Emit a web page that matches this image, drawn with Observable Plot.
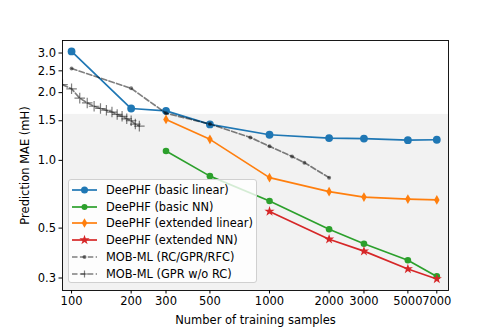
<!DOCTYPE html>
<html><head><meta charset="utf-8">
<script src="https://cdn.jsdelivr.net/npm/d3@7"></script>
<script src="https://cdn.jsdelivr.net/npm/@observablehq/plot@0.6"></script>
<style>
body{margin:0;background:#fff;font-family:"DejaVu Sans",sans-serif;}
#wrap{position:relative;width:498px;height:332px;}
#legend{position:absolute;left:68px;top:179px;width:189px;height:104px;background:rgba(255,255,255,0.8);border:1px solid #d0d0d0;border-radius:3px;box-sizing:border-box;}
.row{position:absolute;left:0;height:16px;font-size:11.4px;line-height:16px;color:#000;white-space:nowrap;}
.row svg{position:absolute;left:2px;top:0;}
.row span{position:absolute;left:37px;top:0;}
</style>
</head><body><div id="wrap"></div>
<script>
// ---- data ----
const xTicks = [100, 200, 300, 500, 1000, 2000, 3000, 5000, 7000];
const yTicks = [0.3, 0.5, 1.0, 1.5, 2.0, 2.5, 3.0];
const xDomain = [90, 8020];
const yDomain = [0.264, 3.41];
const chemicalAccuracy = 1.6;

const basicLinearX = [100, 200, 300, 500, 1000, 2000, 3000, 5000, 7000];
const basicLinearY = [3.05, 1.70, 1.66, 1.445, 1.30, 1.256, 1.25, 1.23, 1.235];
const basicNNX = [300, 500, 1000, 2000, 3000, 5000, 7000];
const basicNNY = [1.10, 0.851, 0.66, 0.494, 0.426, 0.36, 0.305];
const extLinearX = [300, 500, 1000, 2000, 3000, 5000, 7000];
const extLinearY = [1.52, 1.24, 0.838, 0.726, 0.687, 0.673, 0.667];
const extNNX = [1000, 2000, 3000, 5000, 7000];
const extNNY = [0.593, 0.446, 0.395, 0.329, 0.297];
const mobX = [100, 200, 300, 500, 800, 1000, 1300, 1500, 2000];
const mobY = [2.56, 2.09, 1.62, 1.45, 1.265, 1.154, 1.04, 0.977, 0.838];
const gprX = [90, 100, 110, 120, 130, 140, 150, 160, 170, 180, 190, 200, 210, 220];
const gprY = [2.17, 2.08, 1.89, 1.80, 1.74, 1.70, 1.67, 1.64, 1.60, 1.57, 1.53, 1.50, 1.45, 1.42];

const seriesNames = ["DeePHF (basic linear)", "DeePHF (basic NN)", "DeePHF (extended linear)", "DeePHF (extended NN)", "MOB-ML (RC/GPR/RFC)", "MOB-ML (GPR w/o RC)"];

const toRows = (xs, ys) => xs.map((x, i) => ({x, y: ys[i]}));

const thinDiamond = {
  draw(ctx, size) {
    const r = Math.sqrt(size / Math.PI);
    const h = r * 1.18, w = r * 0.68;
    ctx.moveTo(0, -h); ctx.lineTo(w, 0); ctx.lineTo(0, h); ctx.lineTo(-w, 0); ctx.closePath();
  }
};

const styles = [
  {data: toRows(basicLinearX, basicLinearY), color: "#1f77b4", symbol: "circle", r: 3.9},
  {data: toRows(basicNNX, basicNNY), color: "#2ca02c", symbol: "circle", r: 3.3},
  {data: toRows(extLinearX, extLinearY), color: "#ff7f0e", symbol: thinDiamond, r: 4.1},
  {data: toRows(extNNX, extNNY), color: "#d62728", symbol: "star", r: 3.2},
];

const marks = [
  Plot.rect([chemicalAccuracy], {x1: xDomain[0], x2: xDomain[1], y1: yDomain[0], y2: d => d, fill: "#808080", fillOpacity: 0.1}),
];
for (const s of styles) {
  marks.push(Plot.line(s.data, {x: "x", y: "y", stroke: s.color, strokeWidth: 1.7, clip: true}));
  marks.push(Plot.dot(s.data, {x: "x", y: "y", fill: s.color, symbol: s.symbol, r: s.r, clip: true}));
}
const mob = toRows(mobX, mobY);
const gpr = toRows(gprX, gprY);
marks.push(
  Plot.line(mob, {x: "x", y: "y", stroke: "#000", strokeOpacity: 0.5, strokeWidth: 1.7, strokeDasharray: "5.5,2.4", clip: true}),
  Plot.dot(mob, {x: "x", y: "y", fill: "#000", fillOpacity: 0.5, r: 2, clip: true}),
  Plot.line(gpr, {x: "x", y: "y", stroke: "#000", strokeOpacity: 0.5, strokeWidth: 1.7, strokeDasharray: "5.5,2.4", clip: true}),
  Plot.dot(gpr, {x: "x", y: "y", stroke: "#000", strokeOpacity: 0.5, symbol: "plus", r: 3.5, strokeWidth: 1.2, clip: true}),
  Plot.axisX({ticks: xTicks, tickFormat: () => "", tickSize: 3.5, label: "Number of training samples", labelAnchor: "center", labelArrow: "none", labelOffset: 33}),
  Plot.text(xTicks, {x: d => d, text: d => String(d), frameAnchor: "bottom", dy: 14, fill: "#000", fontSize: 11.5}),
  Plot.axisY({ticks: yTicks, tickFormat: d3.format(".1f"), tickSize: 3.5, tickPadding: 3, label: "Prediction MAE (mH)", labelAnchor: "center", labelArrow: "none", labelOffset: 42}),
  Plot.frame({stroke: "#000", strokeWidth: 0.9})
);

const chart = Plot.plot({
  width: 498, height: 332,
  marginLeft: 62, marginRight: 50, marginTop: 40, marginBottom: 42,
  x: {type: "log", domain: xDomain},
  y: {type: "log", domain: yDomain},
  style: {fontFamily: "DejaVu Sans", fontSize: "11.5px", background: "white", color: "black", overflow: "visible"},
  marks
});
const wrap = document.getElementById("wrap");
wrap.appendChild(chart);

// ---- legend ----
const legend = document.createElement("div");
legend.id = "legend";
wrap.appendChild(legend);
const legendItems = [
  {color: "#1f77b4", symbol: d3.symbolCircle, r: 3.5, dash: null, fill: true},
  {color: "#2ca02c", symbol: d3.symbolCircle, r: 3.0, dash: null, fill: true},
  {color: "#ff7f0e", symbol: thinDiamond, r: 4.1, dash: null, fill: true},
  {color: "#d62728", symbol: d3.symbolStar, r: 3.2, dash: null, fill: true},
  {color: "rgba(0,0,0,0.5)", symbol: d3.symbolCircle, r: 2, dash: "5.5,2.4", fill: true},
  {color: "rgba(0,0,0,0.5)", symbol: null, r: 3.5, dash: "5.5,2.4", fill: false},
];
legendItems.forEach((it, i) => {
  const row = document.createElement("div");
  row.className = "row";
  row.style.top = (2 + i * 16.7) + "px";
  const svg = d3.create("svg").attr("width", 30).attr("height", 16);
  svg.append("line").attr("x1", 1).attr("x2", 26).attr("y1", 8).attr("y2", 8)
    .attr("stroke", it.color).attr("stroke-width", 1.7).attr("stroke-dasharray", it.dash);
  if (it.fill) {
    const path = d3.symbol(it.symbol, Math.PI * it.r * it.r)();
    svg.append("path").attr("d", path).attr("transform", "translate(13.5,8)").attr("fill", it.color);
  } else {
    svg.append("path").attr("d", "M-3.5,0H3.5M0,-3.5V3.5").attr("transform", "translate(13.5,8)").attr("stroke", it.color).attr("stroke-width", 1.2);
  }
  row.appendChild(svg.node());
  const span = document.createElement("span");
  span.textContent = seriesNames[i];
  row.appendChild(span);
  legend.appendChild(row);
});
</script>
</body></html>
